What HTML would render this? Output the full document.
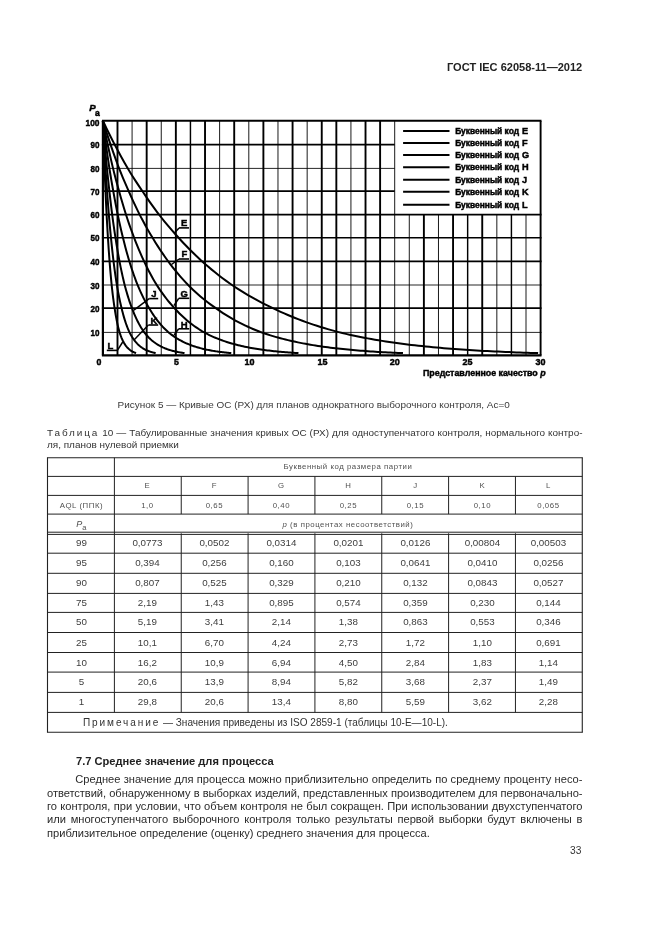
<!DOCTYPE html>
<html><head><meta charset="utf-8">
<style>
html,body{margin:0;padding:0;background:#fff;}
body{width:661px;height:935px;position:relative;overflow:hidden;font-family:"Liberation Sans",sans-serif;color:#1f1f1f;}
svg{position:absolute;left:0;top:0;will-change:transform;}
svg text{font-family:"Liberation Sans",sans-serif;fill:#000;stroke:#000;stroke-width:0.45px;}
.t{position:absolute;white-space:nowrap;will-change:transform;}
.hdr{right:79.2px;top:60.8px;font-size:11.04px;font-weight:bold;line-height:13px;color:#222;}
.figcap{left:0;width:627.4px;text-align:center;top:398.9px;font-size:9.96px;line-height:12px;color:#3a3a3a;}
.tcap{left:47px;width:535.5px;top:427.1px;font-size:9.95px;line-height:12.45px;white-space:normal;text-align:justify;color:#333;}
.sp{letter-spacing:1.9px;}
.c{position:absolute;text-align:center;white-space:nowrap;color:#3d3d3d;will-change:transform;}
.c.d{font-size:9.8px;}
.c.h{font-size:7.8px;letter-spacing:0.55px;color:#505050;}
.c.pa{font-size:9px;letter-spacing:0;}
.c.pa sub{font-size:7.5px;vertical-align:-3.0px;line-height:0;}
.note{left:82.6px;top:716.7px;font-size:10.05px;line-height:12px;color:#333;}
.sec{left:75.5px;top:754.6px;font-size:11.12px;font-weight:bold;line-height:13px;color:#222;}
.body{left:47px;width:535.5px;top:772.0px;font-size:11.12px;line-height:13.75px;white-space:normal;text-align:justify;color:#2a2a2a;}
.body .ln{display:block;position:absolute;left:0;right:0;box-sizing:border-box;text-align:justify;text-align-last:justify;white-space:nowrap;}
.body .ln.last{text-align-last:left;}
.pn{right:79.3px;top:845.1px;font-size:10.2px;line-height:12px;color:#333;}
</style></head><body>
<div class="t hdr">ГОСТ IEC 62058-11—2012</div>
<svg width="661" height="935" viewBox="0 0 661 935" stroke="#000" shape-rendering="geometricPrecision">
<g stroke="#000">
<line x1="102.90" y1="121.00" x2="102.90" y2="355.40" stroke-width="2.2"/>
<line x1="117.49" y1="121.00" x2="117.49" y2="355.40" stroke-width="1.9"/>
<line x1="132.08" y1="121.00" x2="132.08" y2="355.40" stroke-width="0.9"/>
<line x1="146.67" y1="121.00" x2="146.67" y2="355.40" stroke-width="1.9"/>
<line x1="161.26" y1="121.00" x2="161.26" y2="355.40" stroke-width="0.9"/>
<line x1="175.85" y1="121.00" x2="175.85" y2="355.40" stroke-width="1.9"/>
<line x1="190.44" y1="121.00" x2="190.44" y2="355.40" stroke-width="1.45"/>
<line x1="205.03" y1="121.00" x2="205.03" y2="355.40" stroke-width="1.9"/>
<line x1="219.62" y1="121.00" x2="219.62" y2="355.40" stroke-width="0.9"/>
<line x1="234.21" y1="121.00" x2="234.21" y2="355.40" stroke-width="1.9"/>
<line x1="248.80" y1="121.00" x2="248.80" y2="355.40" stroke-width="0.9"/>
<line x1="263.39" y1="121.00" x2="263.39" y2="355.40" stroke-width="1.9"/>
<line x1="277.98" y1="121.00" x2="277.98" y2="355.40" stroke-width="0.9"/>
<line x1="292.57" y1="121.00" x2="292.57" y2="355.40" stroke-width="1.9"/>
<line x1="307.16" y1="121.00" x2="307.16" y2="355.40" stroke-width="0.9"/>
<line x1="321.75" y1="121.00" x2="321.75" y2="355.40" stroke-width="1.9"/>
<line x1="336.34" y1="121.00" x2="336.34" y2="355.40" stroke-width="1.9"/>
<line x1="350.93" y1="121.00" x2="350.93" y2="355.40" stroke-width="0.9"/>
<line x1="365.52" y1="121.00" x2="365.52" y2="355.40" stroke-width="1.9"/>
<line x1="380.11" y1="121.00" x2="380.11" y2="355.40" stroke-width="1.9"/>
<line x1="394.70" y1="121.00" x2="394.70" y2="355.40" stroke-width="0.9"/>
<line x1="409.29" y1="214.70" x2="409.29" y2="355.40" stroke-width="0.9"/>
<line x1="423.88" y1="214.70" x2="423.88" y2="355.40" stroke-width="1.9"/>
<line x1="438.47" y1="214.70" x2="438.47" y2="355.40" stroke-width="0.9"/>
<line x1="453.06" y1="214.70" x2="453.06" y2="355.40" stroke-width="1.9"/>
<line x1="467.65" y1="214.70" x2="467.65" y2="355.40" stroke-width="1.45"/>
<line x1="482.24" y1="214.70" x2="482.24" y2="355.40" stroke-width="1.9"/>
<line x1="496.83" y1="214.70" x2="496.83" y2="355.40" stroke-width="0.9"/>
<line x1="511.42" y1="214.70" x2="511.42" y2="355.40" stroke-width="1.45"/>
<line x1="526.01" y1="214.70" x2="526.01" y2="355.40" stroke-width="0.9"/>
<line x1="540.60" y1="121.00" x2="540.60" y2="355.40" stroke-width="1.9"/>
<line x1="101.90" y1="355.40" x2="541.50" y2="355.40" stroke-width="2.1"/>
<line x1="101.90" y1="332.40" x2="541.50" y2="332.40" stroke-width="0.85"/>
<line x1="101.90" y1="308.10" x2="541.50" y2="308.10" stroke-width="1.55"/>
<line x1="101.90" y1="285.00" x2="541.50" y2="285.00" stroke-width="0.85"/>
<line x1="101.90" y1="261.40" x2="541.50" y2="261.40" stroke-width="1.7"/>
<line x1="101.90" y1="237.80" x2="541.50" y2="237.80" stroke-width="1.6"/>
<line x1="101.90" y1="214.70" x2="541.50" y2="214.70" stroke-width="1.7"/>
<line x1="101.90" y1="191.10" x2="394.70" y2="191.10" stroke-width="1.7"/>
<line x1="101.90" y1="168.40" x2="394.70" y2="168.40" stroke-width="0.85"/>
<line x1="101.90" y1="144.60" x2="394.70" y2="144.60" stroke-width="1.7"/>
<line x1="101.90" y1="120.80" x2="541.50" y2="120.80" stroke-width="1.9"/>
<polyline points="102.90,120.80 106.53,128.38 110.15,135.73 113.78,142.87 117.41,149.79 121.03,156.51 124.66,163.03 128.29,169.32 131.91,175.17 135.54,180.85 139.17,186.35 142.79,191.72 146.42,197.10 150.05,202.32 153.67,207.39 157.30,212.30 160.93,217.01 164.56,221.52 168.18,225.90 171.81,230.14 175.44,234.26 179.06,238.25 182.69,242.20 186.32,246.02 189.94,249.72 193.57,253.31 197.20,256.79 200.82,260.15 204.45,263.41 208.08,266.57 211.70,269.63 215.33,272.59 218.96,275.46 222.58,278.23 226.21,280.92 229.84,283.52 233.46,286.02 237.09,288.40 240.72,290.71 244.34,292.94 247.97,295.10 251.60,297.19 255.22,299.21 258.85,301.17 262.48,303.06 266.11,304.88 269.73,306.65 273.36,308.38 276.99,310.11 280.61,311.80 284.24,313.42 287.87,314.99 291.49,316.51 295.12,317.97 298.75,319.39 302.37,320.76 306.00,322.08 309.63,323.36 313.25,324.59 316.88,325.78 320.51,326.93 324.13,328.05 327.76,329.12 331.39,330.15 335.01,331.15 338.64,332.12 342.27,333.01 345.89,333.86 349.52,334.68 353.15,335.48 356.77,336.24 360.40,336.97 364.03,337.68 367.66,338.37 371.28,339.03 374.91,339.67 378.54,340.28 382.16,340.87 385.79,341.44 389.42,341.99 393.04,342.52 396.67,343.03 400.30,343.52 403.92,343.99 407.55,344.45 411.18,344.89 414.80,345.31 418.43,345.72 422.06,346.11 425.68,346.49 429.31,346.85 432.94,347.20 436.56,347.54 440.19,347.86 443.82,348.17 447.44,348.47 451.07,348.76 454.70,349.03 458.32,349.30 461.95,349.55 465.58,349.80 469.21,350.04 472.83,350.26 476.46,350.48 480.09,350.69 483.71,350.89 487.34,351.08 490.97,351.27 494.59,351.45 498.22,351.62 501.85,351.78 505.47,351.94 509.10,352.09 512.73,352.24 516.35,352.38 519.98,352.51 523.61,352.64 527.23,352.76 530.86,352.88 534.49,352.99 538.11,353.10" fill="none" stroke-width="2.0"/>
<polyline points="102.90,120.80 105.40,128.83 107.90,136.60 110.40,144.12 112.90,151.39 115.40,158.44 117.90,165.25 120.40,171.69 122.91,177.77 125.41,183.66 127.91,189.36 130.41,195.02 132.91,200.56 135.41,205.92 137.91,211.10 140.41,216.09 142.91,220.84 145.41,225.43 147.91,229.87 150.41,234.16 152.91,238.32 155.41,242.42 157.91,246.39 160.41,250.22 162.92,253.93 165.42,257.51 167.92,260.97 170.42,264.31 172.92,267.54 175.42,270.67 177.92,273.69 180.42,276.60 182.92,279.42 185.42,282.15 187.92,284.78 190.42,287.27 192.92,289.67 195.42,291.99 197.92,294.23 200.42,296.40 202.93,298.49 205.43,300.51 207.93,302.45 210.43,304.34 212.93,306.15 215.43,307.91 217.93,309.68 220.43,311.40 222.93,313.06 225.43,314.66 227.93,316.20 230.43,317.70 232.93,319.13 235.43,320.52 237.93,321.86 240.43,323.16 242.94,324.40 245.44,325.61 247.94,326.77 250.44,327.88 252.94,328.96 255.44,330.00 257.94,331.01 260.44,331.98 262.94,332.88 265.44,333.73 267.94,334.55 270.44,335.34 272.94,336.11 275.44,336.84 277.94,337.55 280.44,338.23 282.95,338.89 285.45,339.52 287.95,340.14 290.45,340.72 292.95,341.29 295.45,341.84 297.95,342.36 300.45,342.87 302.95,343.36 305.45,343.82 307.95,344.28 310.45,344.71 312.95,345.13 315.45,345.54 317.95,345.92 320.45,346.30 322.96,346.66 325.46,347.00 327.96,347.34 330.46,347.66 332.96,347.97 335.46,348.26 337.96,348.55 340.46,348.82 342.96,349.09 345.46,349.34 347.96,349.58 350.46,349.82 352.96,350.05 355.46,350.26 357.96,350.47 360.46,350.67 362.97,350.87 365.47,351.05 367.97,351.23 370.47,351.40 372.97,351.57 375.47,351.72 377.97,351.88 380.47,352.02 382.97,352.16 385.47,352.30 387.97,352.43 390.47,352.55 392.97,352.67 395.47,352.78 397.97,352.89 400.47,353.00 402.98,353.10" fill="none" stroke-width="2.0"/>
<polyline points="102.90,120.80 104.53,129.16 106.16,137.24 107.79,145.04 109.42,152.57 111.05,159.85 112.68,166.88 114.31,173.42 115.94,179.67 117.57,185.71 119.20,191.56 120.83,197.41 122.46,203.06 124.09,208.51 125.72,213.78 127.34,218.78 128.97,223.58 130.60,228.22 132.23,232.70 133.86,237.02 135.49,241.27 137.12,245.38 138.75,249.35 140.38,253.18 142.01,256.88 143.64,260.45 145.27,263.89 146.90,267.22 148.53,270.43 150.16,273.52 151.79,276.51 153.42,279.39 155.05,282.17 156.68,284.85 158.31,287.38 159.94,289.82 161.57,292.18 163.20,294.45 164.83,296.64 166.46,298.76 168.09,300.79 169.72,302.76 171.35,304.66 172.97,306.48 174.60,308.26 176.23,310.04 177.86,311.77 179.49,313.43 181.12,315.03 182.75,316.58 184.38,318.07 186.01,319.50 187.64,320.89 189.27,322.22 190.90,323.51 192.53,324.75 194.16,325.94 195.79,327.09 197.42,328.20 199.05,329.27 200.68,330.30 202.31,331.30 203.94,332.25 205.57,333.13 207.20,333.97 208.83,334.78 210.46,335.56 212.09,336.31 213.72,337.04 215.35,337.73 216.98,338.41 218.61,339.05 220.23,339.68 221.86,340.28 223.49,340.85 225.12,341.41 226.75,341.94 228.38,342.46 230.01,342.96 231.64,343.44 233.27,343.90 234.90,344.34 236.53,344.77 238.16,345.18 239.79,345.57 241.42,345.95 243.05,346.32 244.68,346.67 246.31,347.01 247.94,347.34 249.57,347.65 251.20,347.95 252.83,348.24 254.46,348.52 256.09,348.79 257.72,349.05 259.35,349.30 260.98,349.54 262.61,349.77 264.24,349.99 265.87,350.20 267.49,350.41 269.12,350.61 270.75,350.80 272.38,350.98 274.01,351.15 275.64,351.32 277.27,351.48 278.90,351.64 280.53,351.79 282.16,351.93 283.79,352.07 285.42,352.21 287.05,352.33 288.68,352.46 290.31,352.57 291.94,352.69 293.57,352.80 295.20,352.90 296.83,353.00 298.46,353.10" fill="none" stroke-width="2.0"/>
<polyline points="102.90,120.80 103.97,129.37 105.04,137.64 106.11,145.61 107.18,153.31 108.25,160.73 109.32,167.89 110.39,174.50 111.46,180.85 112.53,186.98 113.60,192.96 114.67,198.88 115.74,204.59 116.81,210.11 117.88,215.40 118.95,220.42 120.02,225.26 121.09,229.92 122.16,234.42 123.23,238.78 124.30,243.05 125.37,247.17 126.44,251.14 127.51,254.97 128.58,258.66 129.65,262.22 130.71,265.66 131.78,268.96 132.85,272.15 133.92,275.23 134.99,278.19 136.06,281.05 137.13,283.80 138.20,286.42 139.27,288.93 140.34,291.34 141.41,293.67 142.48,295.91 143.55,298.07 144.62,300.15 145.69,302.16 146.76,304.09 147.83,305.95 148.90,307.75 149.97,309.55 151.04,311.30 152.11,312.99 153.18,314.62 154.25,316.19 155.32,317.70 156.39,319.16 157.46,320.56 158.53,321.91 159.60,323.21 160.67,324.47 161.74,325.67 162.81,326.84 163.88,327.96 164.95,329.04 166.02,330.08 167.09,331.08 168.16,332.04 169.23,332.94 170.30,333.79 171.37,334.60 172.44,335.39 173.51,336.14 174.58,336.87 175.65,337.57 176.72,338.25 177.79,338.90 178.86,339.52 179.93,340.13 181.00,340.71 182.07,341.26 183.14,341.80 184.20,342.32 185.27,342.82 186.34,343.30 187.41,343.76 188.48,344.20 189.55,344.63 190.62,345.04 191.69,345.44 192.76,345.82 193.83,346.19 194.90,346.54 195.97,346.88 197.04,347.21 198.11,347.52 199.18,347.83 200.25,348.12 201.32,348.40 202.39,348.67 203.46,348.93 204.53,349.18 205.60,349.42 206.67,349.65 207.74,349.87 208.81,350.09 209.88,350.29 210.95,350.49 212.02,350.68 213.09,350.87 214.16,351.04 215.23,351.21 216.30,351.37 217.37,351.53 218.44,351.68 219.51,351.83 220.58,351.97 221.65,352.10 222.72,352.23 223.79,352.35 224.86,352.47 225.93,352.59 227.00,352.70 228.07,352.81 229.14,352.91 230.21,353.01 231.28,353.10" fill="none" stroke-width="2.0"/>
<polyline points="102.90,120.80 103.58,129.51 104.26,137.91 104.94,146.01 105.62,153.81 106.30,161.33 106.98,168.57 107.66,175.23 108.34,181.65 109.02,187.84 109.70,193.90 110.38,199.88 111.06,205.63 111.74,211.18 112.42,216.49 113.10,221.53 113.78,226.39 114.46,231.07 115.14,235.58 115.82,239.97 116.50,244.25 117.18,248.37 117.86,252.34 118.54,256.17 119.22,259.86 119.90,263.41 120.58,266.83 121.26,270.13 121.94,273.30 122.62,276.36 123.30,279.31 123.98,282.15 124.66,284.89 125.34,287.47 126.02,289.95 126.70,292.35 127.38,294.65 128.06,296.87 128.74,299.01 129.42,301.07 130.11,303.05 130.79,304.97 131.47,306.81 132.15,308.60 132.83,310.40 133.51,312.13 134.19,313.80 134.87,315.40 135.55,316.95 136.23,318.44 136.91,319.87 137.59,321.25 138.27,322.58 138.95,323.86 139.63,325.09 140.31,326.28 140.99,327.42 141.67,328.52 142.35,329.58 143.03,330.60 143.71,331.58 144.39,332.52 145.07,333.38 145.75,334.21 146.43,335.01 147.11,335.78 147.79,336.52 148.47,337.23 149.15,337.92 149.83,338.58 150.51,339.22 151.19,339.83 151.87,340.42 152.55,340.98 153.23,341.53 153.91,342.06 154.59,342.56 155.27,343.05 155.95,343.52 156.63,343.97 157.31,344.40 157.99,344.82 158.67,345.22 159.35,345.61 160.03,345.98 160.71,346.34 161.39,346.69 162.07,347.02 162.75,347.34 163.43,347.65 164.11,347.94 164.79,348.23 165.47,348.50 166.15,348.76 166.83,349.02 167.51,349.26 168.19,349.50 168.87,349.72 169.55,349.94 170.23,350.15 170.91,350.35 171.59,350.55 172.27,350.73 172.95,350.91 173.63,351.08 174.31,351.25 174.99,351.41 175.67,351.56 176.35,351.71 177.03,351.85 177.71,351.99 178.39,352.12 179.07,352.25 179.75,352.37 180.43,352.49 181.11,352.60 181.79,352.71 182.47,352.81 183.15,352.91 183.84,353.01 184.52,353.10" fill="none" stroke-width="2.0"/>
<polyline points="102.90,120.80 103.34,129.60 103.78,138.08 104.22,146.25 104.66,154.12 105.10,161.69 105.54,168.97 105.98,175.67 106.42,182.13 106.86,188.36 107.30,194.48 107.74,200.48 108.18,206.26 108.62,211.83 109.06,217.14 109.50,222.20 109.94,227.07 110.38,231.76 110.82,236.28 111.26,240.69 111.70,244.97 112.14,249.09 112.58,253.06 113.01,256.89 113.45,260.57 113.89,264.12 114.33,267.54 114.77,270.82 115.21,273.99 115.65,277.04 116.09,279.98 116.53,282.81 116.97,285.52 117.41,288.09 117.85,290.56 118.29,292.94 118.73,295.24 119.17,297.45 119.61,299.57 120.05,301.62 120.49,303.59 120.93,305.49 121.37,307.31 121.81,309.12 122.25,310.91 122.69,312.62 123.13,314.27 123.57,315.87 124.01,317.40 124.45,318.87 124.89,320.29 125.33,321.66 125.77,322.97 126.21,324.24 126.65,325.46 127.09,326.63 127.53,327.76 127.97,328.85 128.41,329.90 128.85,330.91 129.29,331.88 129.73,332.79 130.17,333.64 130.61,334.46 131.05,335.25 131.49,336.01 131.93,336.74 132.37,337.45 132.80,338.12 133.24,338.78 133.68,339.40 134.12,340.01 134.56,340.59 135.00,341.15 135.44,341.69 135.88,342.21 136.32,342.70 136.76,343.18 137.20,343.65 137.64,344.09 138.08,344.52 138.52,344.93 138.96,345.33 139.40,345.71 139.84,346.08 140.28,346.43 140.72,346.77 141.16,347.10 141.60,347.41 142.04,347.72 142.48,348.01 142.92,348.29 143.36,348.56 143.80,348.82 144.24,349.07 144.68,349.31 145.12,349.54 145.56,349.77 146.00,349.98 146.44,350.19 146.88,350.39 147.32,350.58 147.76,350.76 148.20,350.94 148.64,351.11 149.08,351.27 149.52,351.43 149.96,351.58 150.40,351.73 150.84,351.87 151.28,352.00 151.72,352.13 152.16,352.26 152.60,352.38 153.03,352.49 153.47,352.60 153.91,352.71 154.35,352.81 154.79,352.91 155.23,353.01 155.67,353.10" fill="none" stroke-width="2.0"/>
<polyline points="102.90,120.80 103.18,129.66 103.45,138.19 103.73,146.41 104.01,154.32 104.28,161.94 104.56,169.24 104.84,175.97 105.11,182.46 105.39,188.71 105.67,194.87 105.94,200.89 106.22,206.69 106.50,212.27 106.77,217.58 107.05,222.65 107.33,227.53 107.60,232.22 107.88,236.74 108.16,241.17 108.44,245.45 108.71,249.58 108.99,253.55 109.27,257.37 109.54,261.05 109.82,264.59 110.10,268.01 110.37,271.29 110.65,274.45 110.93,277.50 111.20,280.43 111.48,283.25 111.76,285.95 112.03,288.51 112.31,290.97 112.59,293.34 112.86,295.63 113.14,297.83 113.42,299.94 113.69,301.98 113.97,303.94 114.25,305.83 114.52,307.65 114.80,309.47 115.08,311.24 115.35,312.95 115.63,314.59 115.91,316.17 116.18,317.69 116.46,319.16 116.74,320.57 117.01,321.93 117.29,323.24 117.57,324.49 117.84,325.70 118.12,326.87 118.40,327.99 118.68,329.07 118.95,330.11 119.23,331.11 119.51,332.08 119.78,332.97 120.06,333.82 120.34,334.63 120.61,335.41 120.89,336.16 121.17,336.89 121.44,337.59 121.72,338.26 122.00,338.90 122.27,339.53 122.55,340.13 122.83,340.70 123.10,341.26 123.38,341.79 123.66,342.30 123.93,342.80 124.21,343.27 124.49,343.73 124.76,344.17 125.04,344.60 125.32,345.01 125.59,345.40 125.87,345.78 126.15,346.14 126.42,346.49 126.70,346.83 126.98,347.15 127.25,347.46 127.53,347.76 127.81,348.05 128.08,348.33 128.36,348.60 128.64,348.86 128.92,349.11 129.19,349.34 129.47,349.57 129.75,349.79 130.02,350.01 130.30,350.21 130.58,350.41 130.85,350.60 131.13,350.78 131.41,350.95 131.68,351.12 131.96,351.29 132.24,351.44 132.51,351.59 132.79,351.74 133.07,351.88 133.34,352.01 133.62,352.14 133.90,352.26 134.17,352.38 134.45,352.50 134.73,352.61 135.00,352.71 135.28,352.82 135.56,352.91 135.83,353.01 136.11,353.10" fill="none" stroke-width="2.0"/>
<line x1="179" y1="227.9" x2="189" y2="227.9" stroke-width="1.6"/>
<line x1="179" y1="227.9" x2="175" y2="232.4" stroke-width="1.5"/>
<line x1="179" y1="259.0" x2="189" y2="259.0" stroke-width="1.6"/>
<line x1="179" y1="259.0" x2="171.5" y2="264.5" stroke-width="1.5"/>
<line x1="178.7" y1="298.3" x2="189.3" y2="298.3" stroke-width="1.6"/>
<line x1="178.7" y1="298.3" x2="174.1" y2="305.5" stroke-width="1.5"/>
<line x1="178.7" y1="328.8" x2="189.3" y2="328.8" stroke-width="1.6"/>
<line x1="178.7" y1="328.8" x2="174.1" y2="335" stroke-width="1.5"/>
<line x1="149.2" y1="298.6" x2="158.2" y2="298.6" stroke-width="1.6"/>
<line x1="149.2" y1="298.6" x2="133.9" y2="310.2" stroke-width="1.5"/>
<line x1="148.4" y1="325.0" x2="158.2" y2="325.0" stroke-width="1.6"/>
<line x1="148.4" y1="325.0" x2="134" y2="340" stroke-width="1.5"/>
<line x1="106.8" y1="350.4" x2="117.4" y2="350.4" stroke-width="1.6"/>
<line x1="117.4" y1="350.4" x2="122.7" y2="342" stroke-width="1.5"/>
<line x1="403.1" y1="131" x2="449.5" y2="131" stroke-width="2.0"/>
<line x1="403.1" y1="143" x2="449.5" y2="143" stroke-width="2.0"/>
<line x1="403.1" y1="154.9" x2="449.5" y2="154.9" stroke-width="2.0"/>
<line x1="403.1" y1="167.2" x2="449.5" y2="167.2" stroke-width="2.0"/>
<line x1="403.1" y1="179.7" x2="449.5" y2="179.7" stroke-width="2.0"/>
<line x1="403.1" y1="191.7" x2="449.5" y2="191.7" stroke-width="2.0"/>
<line x1="403.1" y1="204.8" x2="449.5" y2="204.8" stroke-width="2.0"/>
</g>
<g>
<text x="99.5" y="336.0" font-size="9.4" text-anchor="end" font-weight="bold" font-style="normal" textLength="9.0" lengthAdjust="spacingAndGlyphs">10</text>
<text x="99.5" y="311.7" font-size="9.4" text-anchor="end" font-weight="bold" font-style="normal" textLength="9.0" lengthAdjust="spacingAndGlyphs">20</text>
<text x="99.5" y="288.6" font-size="9.4" text-anchor="end" font-weight="bold" font-style="normal" textLength="9.0" lengthAdjust="spacingAndGlyphs">30</text>
<text x="99.5" y="265.0" font-size="9.4" text-anchor="end" font-weight="bold" font-style="normal" textLength="9.0" lengthAdjust="spacingAndGlyphs">40</text>
<text x="99.5" y="241.4" font-size="9.4" text-anchor="end" font-weight="bold" font-style="normal" textLength="9.0" lengthAdjust="spacingAndGlyphs">50</text>
<text x="99.5" y="218.3" font-size="9.4" text-anchor="end" font-weight="bold" font-style="normal" textLength="9.0" lengthAdjust="spacingAndGlyphs">60</text>
<text x="99.5" y="194.7" font-size="9.4" text-anchor="end" font-weight="bold" font-style="normal" textLength="9.0" lengthAdjust="spacingAndGlyphs">70</text>
<text x="99.5" y="172.0" font-size="9.4" text-anchor="end" font-weight="bold" font-style="normal" textLength="9.0" lengthAdjust="spacingAndGlyphs">80</text>
<text x="99.5" y="148.2" font-size="9.4" text-anchor="end" font-weight="bold" font-style="normal" textLength="9.0" lengthAdjust="spacingAndGlyphs">90</text>
<text x="99.5" y="125.5" font-size="9.4" text-anchor="end" font-weight="bold" font-style="normal" textLength="14.0" lengthAdjust="spacingAndGlyphs">100</text>
<text x="98.9" y="365.2" font-size="9.2" text-anchor="middle" font-weight="bold" font-style="normal" textLength="4.9" lengthAdjust="spacingAndGlyphs">0</text>
<text x="176.5" y="365.2" font-size="9.2" text-anchor="middle" font-weight="bold" font-style="normal" textLength="4.9" lengthAdjust="spacingAndGlyphs">5</text>
<text x="249.4" y="365.2" font-size="9.2" text-anchor="middle" font-weight="bold" font-style="normal" textLength="10.0" lengthAdjust="spacingAndGlyphs">10</text>
<text x="322.4" y="365.2" font-size="9.2" text-anchor="middle" font-weight="bold" font-style="normal" textLength="10.0" lengthAdjust="spacingAndGlyphs">15</text>
<text x="394.7" y="365.2" font-size="9.2" text-anchor="middle" font-weight="bold" font-style="normal" textLength="10.0" lengthAdjust="spacingAndGlyphs">20</text>
<text x="467.6" y="365.2" font-size="9.2" text-anchor="middle" font-weight="bold" font-style="normal" textLength="10.0" lengthAdjust="spacingAndGlyphs">25</text>
<text x="540.6" y="365.2" font-size="9.2" text-anchor="middle" font-weight="bold" font-style="normal" textLength="10.0" lengthAdjust="spacingAndGlyphs">30</text>
<text x="545.6" y="376.4" font-size="9.5" text-anchor="end" font-weight="bold" font-style="normal" textLength="122.6" lengthAdjust="spacingAndGlyphs">Представленное качество <tspan font-style="italic">p</tspan></text>
<text x="89.3" y="111.4" font-size="9.6" text-anchor="start" font-weight="bold" font-style="italic" >P</text>
<text x="95.1" y="115.7" font-size="8.6" text-anchor="start" font-weight="bold" font-style="normal" >a</text>
<text x="455.2" y="133.8" font-size="8.6" text-anchor="start" font-weight="bold" font-style="normal" textLength="63.9" lengthAdjust="spacingAndGlyphs">Буквенный код</text>
<text x="522.0" y="133.9" font-size="9.2" text-anchor="start" font-weight="bold" font-style="normal" >E</text>
<text x="455.2" y="145.8" font-size="8.6" text-anchor="start" font-weight="bold" font-style="normal" textLength="63.9" lengthAdjust="spacingAndGlyphs">Буквенный код</text>
<text x="522.0" y="145.9" font-size="9.2" text-anchor="start" font-weight="bold" font-style="normal" >F</text>
<text x="455.2" y="157.7" font-size="8.6" text-anchor="start" font-weight="bold" font-style="normal" textLength="63.9" lengthAdjust="spacingAndGlyphs">Буквенный код</text>
<text x="522.0" y="157.8" font-size="9.2" text-anchor="start" font-weight="bold" font-style="normal" >G</text>
<text x="455.2" y="170.0" font-size="8.6" text-anchor="start" font-weight="bold" font-style="normal" textLength="63.9" lengthAdjust="spacingAndGlyphs">Буквенный код</text>
<text x="522.0" y="170.1" font-size="9.2" text-anchor="start" font-weight="bold" font-style="normal" >H</text>
<text x="455.2" y="182.5" font-size="8.6" text-anchor="start" font-weight="bold" font-style="normal" textLength="63.9" lengthAdjust="spacingAndGlyphs">Буквенный код</text>
<text x="522.0" y="182.6" font-size="9.2" text-anchor="start" font-weight="bold" font-style="normal" >J</text>
<text x="455.2" y="194.5" font-size="8.6" text-anchor="start" font-weight="bold" font-style="normal" textLength="63.9" lengthAdjust="spacingAndGlyphs">Буквенный код</text>
<text x="522.0" y="194.6" font-size="9.2" text-anchor="start" font-weight="bold" font-style="normal" >K</text>
<text x="455.2" y="207.6" font-size="8.6" text-anchor="start" font-weight="bold" font-style="normal" textLength="63.9" lengthAdjust="spacingAndGlyphs">Буквенный код</text>
<text x="522.0" y="207.7" font-size="9.2" text-anchor="start" font-weight="bold" font-style="normal" >L</text>
<text x="181.0" y="226.2" font-size="9.5" text-anchor="start" font-weight="bold" font-style="normal" >E</text>
<text x="181.6" y="257.3" font-size="9.5" text-anchor="start" font-weight="bold" font-style="normal" >F</text>
<text x="180.6" y="296.8" font-size="9.5" text-anchor="start" font-weight="bold" font-style="normal" >G</text>
<text x="180.8" y="327.6" font-size="9.5" text-anchor="start" font-weight="bold" font-style="normal" >H</text>
<text x="151.2" y="297.4" font-size="9.5" text-anchor="start" font-weight="bold" font-style="normal" >J</text>
<text x="150.4" y="323.8" font-size="9.5" text-anchor="start" font-weight="bold" font-style="normal" >K</text>
<text x="107.6" y="349.4" font-size="9.5" text-anchor="start" font-weight="bold" font-style="normal" >L</text>
</g>
<g stroke="#222">
<line x1="46.95" y1="457.70" x2="582.83" y2="457.70" stroke-width="1.1"/>
<line x1="47.50" y1="476.40" x2="582.28" y2="476.40" stroke-width="1.0"/>
<line x1="47.50" y1="495.40" x2="582.28" y2="495.40" stroke-width="1.0"/>
<line x1="47.50" y1="514.10" x2="582.28" y2="514.10" stroke-width="1.0"/>
<line x1="47.50" y1="532.20" x2="582.28" y2="532.20" stroke-width="1.0"/>
<line x1="47.50" y1="534.40" x2="582.28" y2="534.40" stroke-width="1.0"/>
<line x1="47.50" y1="553.20" x2="582.28" y2="553.20" stroke-width="1.0"/>
<line x1="47.50" y1="573.30" x2="582.28" y2="573.30" stroke-width="1.0"/>
<line x1="47.50" y1="593.40" x2="582.28" y2="593.40" stroke-width="1.0"/>
<line x1="47.50" y1="612.40" x2="582.28" y2="612.40" stroke-width="1.0"/>
<line x1="47.50" y1="632.50" x2="582.28" y2="632.50" stroke-width="1.0"/>
<line x1="47.50" y1="652.50" x2="582.28" y2="652.50" stroke-width="1.0"/>
<line x1="47.50" y1="672.10" x2="582.28" y2="672.10" stroke-width="1.0"/>
<line x1="47.50" y1="692.40" x2="582.28" y2="692.40" stroke-width="1.0"/>
<line x1="47.50" y1="712.40" x2="582.28" y2="712.40" stroke-width="1.0"/>
<line x1="46.95" y1="732.20" x2="582.83" y2="732.20" stroke-width="1.1"/>
<line x1="47.50" y1="457.70" x2="47.50" y2="732.20" stroke-width="1.1"/>
<line x1="582.28" y1="457.70" x2="582.28" y2="732.20" stroke-width="1.1"/>
<line x1="114.40" y1="457.70" x2="114.40" y2="712.40" stroke-width="1.0"/>
<line x1="181.24" y1="476.40" x2="181.24" y2="514.10" stroke-width="1.0"/>
<line x1="181.24" y1="533.30" x2="181.24" y2="712.40" stroke-width="1.0"/>
<line x1="248.08" y1="476.40" x2="248.08" y2="514.10" stroke-width="1.0"/>
<line x1="248.08" y1="533.30" x2="248.08" y2="712.40" stroke-width="1.0"/>
<line x1="314.92" y1="476.40" x2="314.92" y2="514.10" stroke-width="1.0"/>
<line x1="314.92" y1="533.30" x2="314.92" y2="712.40" stroke-width="1.0"/>
<line x1="381.76" y1="476.40" x2="381.76" y2="514.10" stroke-width="1.0"/>
<line x1="381.76" y1="533.30" x2="381.76" y2="712.40" stroke-width="1.0"/>
<line x1="448.60" y1="476.40" x2="448.60" y2="514.10" stroke-width="1.0"/>
<line x1="448.60" y1="533.30" x2="448.60" y2="712.40" stroke-width="1.0"/>
<line x1="515.44" y1="476.40" x2="515.44" y2="514.10" stroke-width="1.0"/>
<line x1="515.44" y1="533.30" x2="515.44" y2="712.40" stroke-width="1.0"/>
</g>
</svg>
<div class="t figcap">Рисунок 5 — Кривые ОС (РХ) для планов однократного выборочного контроля, Ас=0</div>
<div class="t tcap"><span class="ln" style="display:block;text-align-last:justify;white-space:nowrap"><span class="sp">Таблица</span> 10 — Табулированные значения кривых ОС (РХ) для одноступенчатого контроля, нормального контро-</span><span style="display:block">ля, планов нулевой приемки</span></div>
<div class="c h" style="left:114.4px;top:458.1px;width:467.9px;height:18.7px;line-height:18.7px">Буквенный код размера партии</div>
<div class="c h" style="left:114.4px;top:476.3px;width:66.8px;height:19.0px;line-height:19.0px">E</div>
<div class="c h" style="left:181.2px;top:476.3px;width:66.8px;height:19.0px;line-height:19.0px">F</div>
<div class="c h" style="left:248.1px;top:476.3px;width:66.8px;height:19.0px;line-height:19.0px">G</div>
<div class="c h" style="left:314.9px;top:476.3px;width:66.8px;height:19.0px;line-height:19.0px">H</div>
<div class="c h" style="left:381.8px;top:476.3px;width:66.8px;height:19.0px;line-height:19.0px">J</div>
<div class="c h" style="left:448.6px;top:476.3px;width:66.8px;height:19.0px;line-height:19.0px">K</div>
<div class="c h" style="left:515.4px;top:476.3px;width:66.8px;height:19.0px;line-height:19.0px">L</div>
<div class="c h" style="left:47.5px;top:496.5px;width:66.9px;height:18.7px;line-height:18.7px">AQL (ППК)</div>
<div class="c h" style="left:114.4px;top:496.5px;width:66.8px;height:18.7px;line-height:18.7px">1,0</div>
<div class="c h" style="left:181.2px;top:496.5px;width:66.8px;height:18.7px;line-height:18.7px">0,65</div>
<div class="c h" style="left:248.1px;top:496.5px;width:66.8px;height:18.7px;line-height:18.7px">0,40</div>
<div class="c h" style="left:314.9px;top:496.5px;width:66.8px;height:18.7px;line-height:18.7px">0,25</div>
<div class="c h" style="left:381.8px;top:496.5px;width:66.8px;height:18.7px;line-height:18.7px">0,15</div>
<div class="c h" style="left:448.6px;top:496.5px;width:66.8px;height:18.7px;line-height:18.7px">0,10</div>
<div class="c h" style="left:515.4px;top:496.5px;width:66.8px;height:18.7px;line-height:18.7px">0,065</div>
<div class="c h pa" style="left:47.5px;top:515.1px;width:66.9px;height:19.2px;line-height:19.2px"><i>P</i><sub>a</sub></div>
<div class="c h" style="left:114.4px;top:515.2px;width:467.9px;height:19.2px;line-height:19.2px"><i>p</i> (в процентах несоответствий)</div>
<div class="c d" style="left:47.5px;top:533.3px;width:66.9px;height:19.9px;line-height:19.9px">99</div>
<div class="c d" style="left:114.4px;top:533.3px;width:66.8px;height:19.9px;line-height:19.9px">0,0773</div>
<div class="c d" style="left:181.2px;top:533.3px;width:66.8px;height:19.9px;line-height:19.9px">0,0502</div>
<div class="c d" style="left:248.1px;top:533.3px;width:66.8px;height:19.9px;line-height:19.9px">0,0314</div>
<div class="c d" style="left:314.9px;top:533.3px;width:66.8px;height:19.9px;line-height:19.9px">0,0201</div>
<div class="c d" style="left:381.8px;top:533.3px;width:66.8px;height:19.9px;line-height:19.9px">0,0126</div>
<div class="c d" style="left:448.6px;top:533.3px;width:66.8px;height:19.9px;line-height:19.9px">0,00804</div>
<div class="c d" style="left:515.4px;top:533.3px;width:66.8px;height:19.9px;line-height:19.9px">0,00503</div>
<div class="c d" style="left:47.5px;top:553.2px;width:66.9px;height:20.1px;line-height:20.1px">95</div>
<div class="c d" style="left:114.4px;top:553.2px;width:66.8px;height:20.1px;line-height:20.1px">0,394</div>
<div class="c d" style="left:181.2px;top:553.2px;width:66.8px;height:20.1px;line-height:20.1px">0,256</div>
<div class="c d" style="left:248.1px;top:553.2px;width:66.8px;height:20.1px;line-height:20.1px">0,160</div>
<div class="c d" style="left:314.9px;top:553.2px;width:66.8px;height:20.1px;line-height:20.1px">0,103</div>
<div class="c d" style="left:381.8px;top:553.2px;width:66.8px;height:20.1px;line-height:20.1px">0,0641</div>
<div class="c d" style="left:448.6px;top:553.2px;width:66.8px;height:20.1px;line-height:20.1px">0,0410</div>
<div class="c d" style="left:515.4px;top:553.2px;width:66.8px;height:20.1px;line-height:20.1px">0,0256</div>
<div class="c d" style="left:47.5px;top:573.3px;width:66.9px;height:20.1px;line-height:20.1px">90</div>
<div class="c d" style="left:114.4px;top:573.3px;width:66.8px;height:20.1px;line-height:20.1px">0,807</div>
<div class="c d" style="left:181.2px;top:573.3px;width:66.8px;height:20.1px;line-height:20.1px">0,525</div>
<div class="c d" style="left:248.1px;top:573.3px;width:66.8px;height:20.1px;line-height:20.1px">0,329</div>
<div class="c d" style="left:314.9px;top:573.3px;width:66.8px;height:20.1px;line-height:20.1px">0,210</div>
<div class="c d" style="left:381.8px;top:573.3px;width:66.8px;height:20.1px;line-height:20.1px">0,132</div>
<div class="c d" style="left:448.6px;top:573.3px;width:66.8px;height:20.1px;line-height:20.1px">0,0843</div>
<div class="c d" style="left:515.4px;top:573.3px;width:66.8px;height:20.1px;line-height:20.1px">0,0527</div>
<div class="c d" style="left:47.5px;top:593.4px;width:66.9px;height:19.0px;line-height:19.0px">75</div>
<div class="c d" style="left:114.4px;top:593.4px;width:66.8px;height:19.0px;line-height:19.0px">2,19</div>
<div class="c d" style="left:181.2px;top:593.4px;width:66.8px;height:19.0px;line-height:19.0px">1,43</div>
<div class="c d" style="left:248.1px;top:593.4px;width:66.8px;height:19.0px;line-height:19.0px">0,895</div>
<div class="c d" style="left:314.9px;top:593.4px;width:66.8px;height:19.0px;line-height:19.0px">0,574</div>
<div class="c d" style="left:381.8px;top:593.4px;width:66.8px;height:19.0px;line-height:19.0px">0,359</div>
<div class="c d" style="left:448.6px;top:593.4px;width:66.8px;height:19.0px;line-height:19.0px">0,230</div>
<div class="c d" style="left:515.4px;top:593.4px;width:66.8px;height:19.0px;line-height:19.0px">0,144</div>
<div class="c d" style="left:47.5px;top:612.4px;width:66.9px;height:20.1px;line-height:20.1px">50</div>
<div class="c d" style="left:114.4px;top:612.4px;width:66.8px;height:20.1px;line-height:20.1px">5,19</div>
<div class="c d" style="left:181.2px;top:612.4px;width:66.8px;height:20.1px;line-height:20.1px">3,41</div>
<div class="c d" style="left:248.1px;top:612.4px;width:66.8px;height:20.1px;line-height:20.1px">2,14</div>
<div class="c d" style="left:314.9px;top:612.4px;width:66.8px;height:20.1px;line-height:20.1px">1,38</div>
<div class="c d" style="left:381.8px;top:612.4px;width:66.8px;height:20.1px;line-height:20.1px">0,863</div>
<div class="c d" style="left:448.6px;top:612.4px;width:66.8px;height:20.1px;line-height:20.1px">0,553</div>
<div class="c d" style="left:515.4px;top:612.4px;width:66.8px;height:20.1px;line-height:20.1px">0,346</div>
<div class="c d" style="left:47.5px;top:632.5px;width:66.9px;height:20.0px;line-height:20.0px">25</div>
<div class="c d" style="left:114.4px;top:632.5px;width:66.8px;height:20.0px;line-height:20.0px">10,1</div>
<div class="c d" style="left:181.2px;top:632.5px;width:66.8px;height:20.0px;line-height:20.0px">6,70</div>
<div class="c d" style="left:248.1px;top:632.5px;width:66.8px;height:20.0px;line-height:20.0px">4,24</div>
<div class="c d" style="left:314.9px;top:632.5px;width:66.8px;height:20.0px;line-height:20.0px">2,73</div>
<div class="c d" style="left:381.8px;top:632.5px;width:66.8px;height:20.0px;line-height:20.0px">1,72</div>
<div class="c d" style="left:448.6px;top:632.5px;width:66.8px;height:20.0px;line-height:20.0px">1,10</div>
<div class="c d" style="left:515.4px;top:632.5px;width:66.8px;height:20.0px;line-height:20.0px">0,691</div>
<div class="c d" style="left:47.5px;top:652.5px;width:66.9px;height:19.6px;line-height:19.6px">10</div>
<div class="c d" style="left:114.4px;top:652.5px;width:66.8px;height:19.6px;line-height:19.6px">16,2</div>
<div class="c d" style="left:181.2px;top:652.5px;width:66.8px;height:19.6px;line-height:19.6px">10,9</div>
<div class="c d" style="left:248.1px;top:652.5px;width:66.8px;height:19.6px;line-height:19.6px">6,94</div>
<div class="c d" style="left:314.9px;top:652.5px;width:66.8px;height:19.6px;line-height:19.6px">4,50</div>
<div class="c d" style="left:381.8px;top:652.5px;width:66.8px;height:19.6px;line-height:19.6px">2,84</div>
<div class="c d" style="left:448.6px;top:652.5px;width:66.8px;height:19.6px;line-height:19.6px">1,83</div>
<div class="c d" style="left:515.4px;top:652.5px;width:66.8px;height:19.6px;line-height:19.6px">1,14</div>
<div class="c d" style="left:47.5px;top:672.1px;width:66.9px;height:20.3px;line-height:20.3px">5</div>
<div class="c d" style="left:114.4px;top:672.1px;width:66.8px;height:20.3px;line-height:20.3px">20,6</div>
<div class="c d" style="left:181.2px;top:672.1px;width:66.8px;height:20.3px;line-height:20.3px">13,9</div>
<div class="c d" style="left:248.1px;top:672.1px;width:66.8px;height:20.3px;line-height:20.3px">8,94</div>
<div class="c d" style="left:314.9px;top:672.1px;width:66.8px;height:20.3px;line-height:20.3px">5,82</div>
<div class="c d" style="left:381.8px;top:672.1px;width:66.8px;height:20.3px;line-height:20.3px">3,68</div>
<div class="c d" style="left:448.6px;top:672.1px;width:66.8px;height:20.3px;line-height:20.3px">2,37</div>
<div class="c d" style="left:515.4px;top:672.1px;width:66.8px;height:20.3px;line-height:20.3px">1,49</div>
<div class="c d" style="left:47.5px;top:692.4px;width:66.9px;height:20.0px;line-height:20.0px">1</div>
<div class="c d" style="left:114.4px;top:692.4px;width:66.8px;height:20.0px;line-height:20.0px">29,8</div>
<div class="c d" style="left:181.2px;top:692.4px;width:66.8px;height:20.0px;line-height:20.0px">20,6</div>
<div class="c d" style="left:248.1px;top:692.4px;width:66.8px;height:20.0px;line-height:20.0px">13,4</div>
<div class="c d" style="left:314.9px;top:692.4px;width:66.8px;height:20.0px;line-height:20.0px">8,80</div>
<div class="c d" style="left:381.8px;top:692.4px;width:66.8px;height:20.0px;line-height:20.0px">5,59</div>
<div class="c d" style="left:448.6px;top:692.4px;width:66.8px;height:20.0px;line-height:20.0px">3,62</div>
<div class="c d" style="left:515.4px;top:692.4px;width:66.8px;height:20.0px;line-height:20.0px">2,28</div>
<div class="t note"><span class="sp">Примечание</span> — Значения приведены из ISO 2859-1 (таблицы 10-E—10-L).</div>
<div class="t sec">7.7 Среднее значение для процесса</div>
<div class="t body">
<span class="ln" style="top:1.0px;padding-left:28.3px">Среднее значение для процесса можно приблизительно определить по среднему проценту несо-</span>
<span class="ln" style="top:14.75px;letter-spacing:-0.05px">ответствий, обнаруженному в выборках изделий, представленных производителем для первоначально-</span>
<span class="ln" style="top:27.5px">го контроля, при условии, что объем контроля не был сокращен. При использовании двухступенчатого</span>
<span class="ln" style="top:41.25px">или многоступенчатого выборочного контроля только результаты первой выборки будут включены в</span>
<span class="ln last" style="top:55.0px">приблизительное определение (оценку) среднего значения для процесса.</span>
</div>
<div class="t pn">33</div>
</body></html>
